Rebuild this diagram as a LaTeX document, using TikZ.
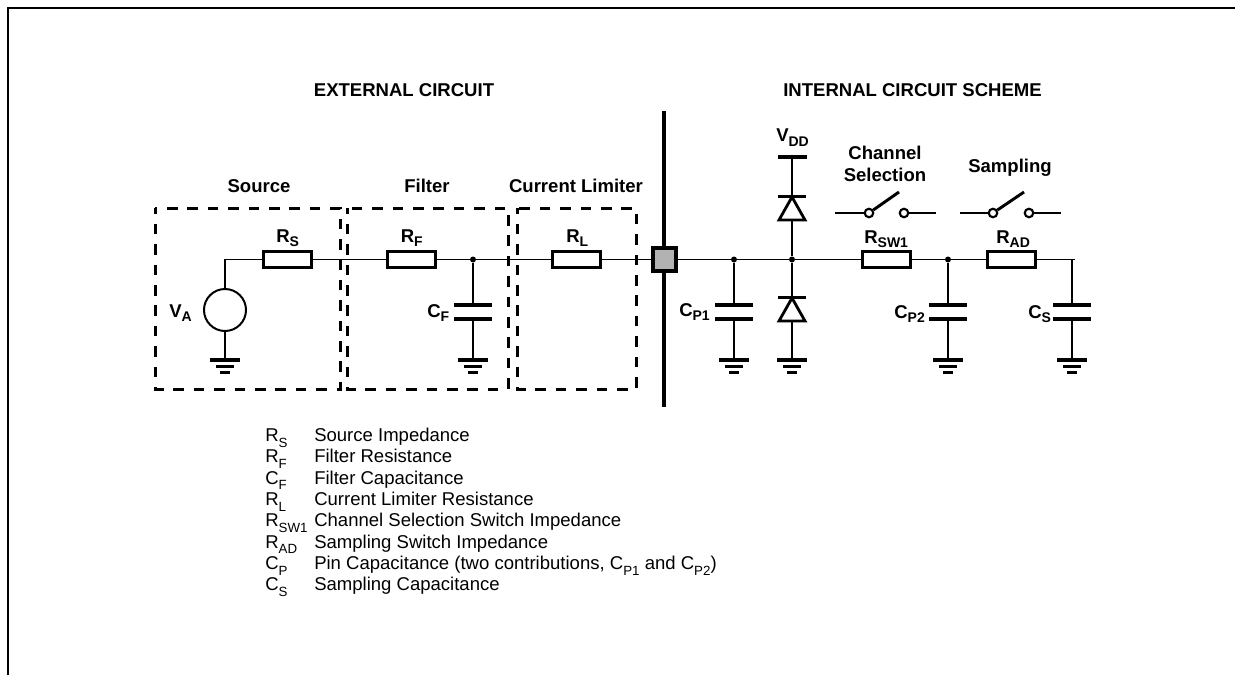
\documentclass[tikz,border=0pt]{standalone}
\usepackage{fontspec}
\setmainfont{Liberation Sans}
\newcommand{\lsub}[1]{\raisebox{-0.25em}{\fontsize{10.5pt}{12pt}\selectfont #1}}
\newcommand{\ssub}[1]{\raisebox{-0.3em}{\fontsize{10pt}{12pt}\selectfont #1}}
\tikzset{
  wire/.style={draw=black,line width=0.9pt},
  res/.style={draw=black,fill=white,line width=2.3pt,minimum width=47.5*0.75pt,minimum height=15.5*0.75pt,inner sep=0pt},
  plate/.style={fill=black,minimum width=38*0.75pt,minimum height=4*0.75pt,inner sep=0pt},
  thinplate/.style={fill=black,minimum width=29*0.75pt,minimum height=3.5*0.75pt,inner sep=0pt},
  jdot/.style={circle,fill=black,minimum size=6*0.75pt,inner sep=0pt},
  dbox/.style={draw=black,line width=2.25pt,dash pattern=on 7.9pt off 7.4pt,dash phase=3.4pt},
  lbl/.style={font=\fontsize{13.9pt}{16pt}\selectfont\bfseries,inner sep=0pt,anchor=base west},
  clbl/.style={font=\fontsize{13.9pt}{16pt}\selectfont\bfseries,inner sep=0pt,anchor=base},
  leg/.style={font=\fontsize{13.9pt}{16pt}\selectfont,inner sep=0pt,anchor=base west},
  swpin/.style={circle,draw=black,fill=white,line width=1.6pt,minimum size=8.5*0.75pt,inner sep=0pt},
  gndsym/.pic={
    \fill[black] (-15,-1.6) rectangle (15,1.6);
    \fill[black] (-9,5.2) rectangle (9,8.2);
    \fill[black] (-5,11) rectangle (5,13.6);
  },
  diode/.pic={
    \draw[line width=2.1pt,line join=miter,miter limit=10] (0,0) -- (-13,23) -- (13,23) -- cycle;
    \fill[black] (-14,-2) rectangle (14,1);
  }
}
\begin{document}
\begin{tikzpicture}[x=0.75pt,y=-0.75pt]
\useasboundingbox (0,0) rectangle (1235,675);
\draw[line width=1.5pt] (7.5,675) -- (7.5,7.5) -- (1235,7.5);

% titles
\node[clbl] (tExt) at (404,96) {EXTERNAL CIRCUIT};
\node[clbl] (tInt) at (912.5,96) {INTERNAL CIRCUIT SCHEME};
\node[clbl] (tSrc) at (259,192.5) {Source};
\node[clbl] (tFil) at (427,192.5) {Filter};
\node[clbl] (tCur) at (576,192.5) {Current Limiter};
\node[clbl] (tCh) at (885,159.5) {Channel};
\node[clbl] (tSel) at (885,181) {Selection};
\node[clbl] (tSam) at (1010,172) {Sampling};

% dashed boxes
\draw[dbox] (155,208) rectangle (340,389);
\draw[dbox] (347,208) rectangle (508,389);
\draw[dbox] (517,208) rectangle (636,389);

% thick separator
\coordinate (sepT) at (664,111);
\coordinate (sepB) at (664,407);
\draw[line width=3.2pt] (sepT) -- (sepB);

% components on the main line
\coordinate (srcTop) at (225,259.5);
\node[circle,draw=black,line width=1.5pt,minimum size=42*0.75pt,inner sep=0pt] (va) at (225,310) {};
\node[res] (rs) at (287.5,259.5) {};
\node[res] (rf) at (411.5,259.5) {};
\node[jdot] (j1) at (473,259.5) {};
\node[res] (rl) at (576.5,259.5) {};
\node[draw=black,fill=black!30,line width=3pt,minimum size=23*0.75pt,inner sep=0pt] (pin) at (664,259.5) {};
\node[jdot] (j2) at (734,259.5) {};
\node[jdot] (j3) at (792,259.5) {};
\node[res] (rsw) at (886.5,259.5) {};
\node[jdot] (j4) at (948,259.5) {};
\node[res] (rad) at (1011.5,259.5) {};
\coordinate (endw) at (1075,259.5);
\coordinate (csTop) at (1072,259.5);

% capacitors
\node[plate] (cf1) at (473,305) {};
\node[plate] (cf2) at (473,319) {};
\node[plate] (cp11) at (734,305) {};
\node[plate] (cp12) at (734,319) {};
\node[plate] (cp21) at (948,305) {};
\node[plate] (cp22) at (948,319) {};
\node[plate] (cs1) at (1072,305) {};
\node[plate] (cs2) at (1072,319) {};

% grounds
\coordinate (g1) at (225,360);
\coordinate (g2) at (473,360);
\coordinate (g3) at (734,360);
\coordinate (g4) at (792,360);
\coordinate (g5) at (948,360);
\coordinate (g6) at (1072,360);
\foreach \g in {g1,g2,g3,g4,g5,g6} \pic at (\g) {gndsym};

% diodes
\node[thinplate,minimum height=4*0.75pt] (vdd) at (792,157) {};
\coordinate (d1a) at (792,197);
\coordinate (d1b) at (792,221);
\coordinate (d2a) at (792,298);
\coordinate (d2b) at (792,322);
\pic at (d1a) {diode};
\pic at (d2a) {diode};

% wiring
\draw[wire] (g1) -- (va.south) (va.north) -- (srcTop) -- (rs.west);
\draw[wire] (rs.east) -- (rf.west) (rf.east) -- (j1) -- (rl.west) (rl.east) -- (pin.west);
\draw[wire] (pin.east) -- (j2) -- (j3) -- (rsw.west) (rsw.east) -- (j4) -- (rad.west) (rad.east) -- (endw);
\draw[wire] (j1) -- (cf1) (cf2) -- (g2);
\draw[wire] (j2) -- (cp11) (cp12) -- (g3);
\draw[wire] (j4) -- (cp21) (cp22) -- (g5);
\draw[wire] (csTop) -- (cs1) (cs2) -- (g6);
\draw[wire] (vdd) -- (d1a) (d1b) -- (j3) -- (d2a) (d2b) -- (g4);

% switches
\node[swpin] (s1a) at (869,213) {};
\node[swpin] (s1b) at (904,213) {};
\coordinate (s1l) at (835,213);
\coordinate (s1r) at (936,213);
\coordinate (s1t) at (899,192);
\node[swpin] (s2a) at (993,213) {};
\node[swpin] (s2b) at (1029,213) {};
\coordinate (s2l) at (960,213);
\coordinate (s2r) at (1061,213);
\coordinate (s2t) at (1024,192);
\draw[wire] (s1l) -- (s1a) (s1b) -- (s1r) (s2l) -- (s2a) (s2b) -- (s2r);
\draw[line width=2.2pt] (s1a) -- (s1t);
\draw[line width=2.2pt] (s2a) -- (s2t);

% component labels
\node[lbl] (lRs) at (276,242) {R\lsub{S}};
\node[lbl] (lRf) at (400.5,242) {R\lsub{F}};
\node[lbl] (lRl) at (566,242) {R\lsub{L}};
\node[lbl] (lVa) at (169,317) {V\lsub{A}};
\node[lbl] (lCf) at (427,317) {C\lsub{F}};
\node[lbl] (lCp1) at (679,316) {C\lsub{P1}};
\node[lbl] (lVdd) at (776,141.5) {V\lsub{DD}};
\node[lbl] (lRsw) at (864,243) {R\lsub{SW1}};
\node[lbl] (lRad) at (996,243) {R\lsub{AD}};
\node[lbl] (lCp2) at (894,318) {C\lsub{P2}};
\node[lbl] (lCs) at (1028,318) {C\lsub{S}};

% legend
\node[leg] (a1) at (265,441.5) {R\ssub{S}};
\node[leg] (b1) at (314,441.5) {Source Impedance};
\node[leg] (a2) at (265,462.8) {R\ssub{F}};
\node[leg] (b2) at (314,462.8) {Filter Resistance};
\node[leg] (a3) at (265,484.2) {C\ssub{F}};
\node[leg] (b3) at (314,484.2) {Filter Capacitance};
\node[leg] (a4) at (265,505.5) {R\ssub{L}};
\node[leg] (b4) at (314,505.5) {Current Limiter Resistance};
\node[leg] (a5) at (265,526.9) {R\ssub{SW1}};
\node[leg] (b5) at (314,526.9) {Channel Selection Switch Impedance};
\node[leg] (a6) at (265,548.2) {R\ssub{AD}};
\node[leg] (b6) at (314,548.2) {Sampling Switch Impedance};
\node[leg] (a7) at (265,569.5) {C\ssub{P}};
\node[leg] (b7) at (314,569.5) {Pin Capacitance (two contributions, C\ssub{P1} and C\ssub{P2})};
\node[leg] (a8) at (265,590.9) {C\ssub{S}};
\node[leg] (b8) at (314,590.9) {Sampling Capacitance};
\end{tikzpicture}
\end{document}
